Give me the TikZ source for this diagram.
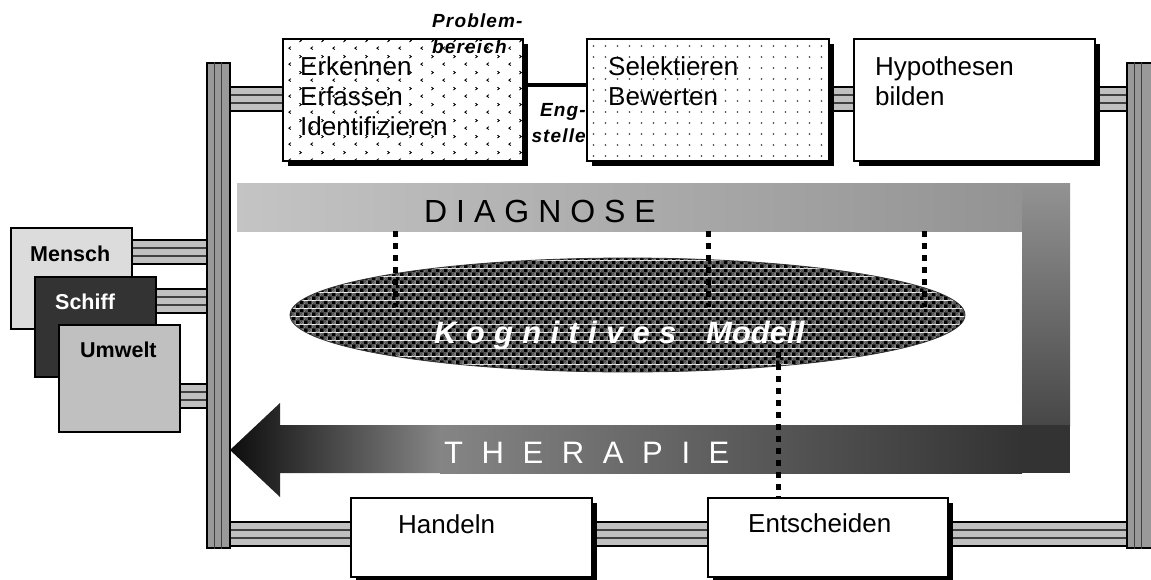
\documentclass[tikz,border=0pt]{standalone}
\usepackage{fontspec}
\setmainfont{Liberation Sans}
\newfontfamily\diagfont[LetterSpace=28]{Liberation Sans}
\newfontfamily\therfont[LetterSpace=60]{Liberation Sans}
\newfontfamily\kogfont[LetterSpace=30]{Liberation Sans}
\newfontfamily\notefont[LetterSpace=6]{Liberation Sans}
\usetikzlibrary{shapes.geometric,patterns.meta,shadows}

\definecolor{busgray}{HTML}{999999}
\definecolor{bargray}{HTML}{C0C0C0}
\definecolor{bandA}{HTML}{C4C4C4}
\definecolor{bandB}{HTML}{939393}
\definecolor{bandC}{HTML}{333333}
\definecolor{bandD}{HTML}{858585}
\definecolor{menschfill}{HTML}{DCDCDC}
\definecolor{schifffill}{HTML}{333333}
\definecolor{umweltfill}{HTML}{C0C0C0}
\definecolor{weavegray}{HTML}{888888}

% small chevron texture
\tikzdeclarepattern{
  name=chevrons, type=uncolored,
  bounding box={(0pt,0pt) and (22pt,16pt)},
  tile size={(22pt,16pt)},
  code={
    \draw[line width=0.9pt] (5pt,1.5pt) -- (3pt,3pt) -- (5pt,4.5pt);
    \draw[line width=0.9pt] (14pt,9.5pt) -- (16pt,11pt) -- (14pt,12.5pt);
  }
}
% sparse dot texture
\tikzdeclarepattern{
  name=sparsedots, type=uncolored,
  bounding box={(0pt,0pt) and (12pt,11pt)},
  tile size={(12pt,11pt)},
  code={\fill (5.3pt,4.8pt) rectangle (6.7pt,6.2pt);}
}
% woven checker texture of the model ellipse
\tikzdeclarepattern{
  name=modelweave, type=colored,
  bounding box={(0pt,0pt) and (8pt,8pt)},
  tile size={(8pt,8pt)},
  code={
    \fill[weavegray] (0pt,0pt) rectangle (8pt,8pt);
    \fill[black] (0pt,0pt) rectangle (4pt,4pt);
    \fill[black] (4pt,4pt) rectangle (8pt,8pt);
    \draw[black!70, line width=0.7pt] (6pt,2pt) circle (1.3pt);
    \draw[black!70, line width=0.7pt] (2pt,6pt) circle (1.3pt);
  }
}

\newcommand\conduit[3]{%
  \pgfmathsetmacro\cya{#3}%
  \pgfmathsetmacro\cyb{#3+8}%
  \pgfmathsetmacro\cyc{#3+16}%
  \pgfmathsetmacro\cyd{#3+24}%
  \fill[bargray] (#1 |- 0,\cya) rectangle (#2 |- 0,\cyd);
  \draw[barline] (#1 |- 0,\cyb) -- (#2 |- 0,\cyb) (#1 |- 0,\cyc) -- (#2 |- 0,\cyc);
  \draw[baredge] (#1 |- 0,\cya) -- (#2 |- 0,\cya) (#1 |- 0,\cyd) -- (#2 |- 0,\cyd);
}

\tikzset{
  barline/.style={draw=black!75, line width=1.2pt},
  baredge/.style={draw=black, line width=1.4pt},
  vbus/.style={draw=black, line width=1.3pt, fill=busgray, inner sep=0, minimum width=23},
  busline/.style={draw=black!75, line width=1.1pt},
  stage/.style={draw=black, line width=1.2pt, fill=white, inner sep=0,
    drop shadow={shadow xshift=4.5pt, shadow yshift=-4.5pt, fill=black, opacity=1}},
  factor/.style={draw=black, line width=1.3pt, inner sep=0, minimum width=121},
  boxtext/.style={anchor=north west, inner sep=0, align=left, font=\fontsize{26}{30}\selectfont},
  factortext/.style={anchor=base west, inner sep=0, font=\fontsize{21.5}{21.5}\selectfont\bfseries},
  notetext/.style={inner sep=0, font=\fontsize{19}{26}\selectfont\notefont\bfseries\itshape},
  probe/.style={draw=black, line width=5pt, dash pattern=on 6pt off 6pt},
}

\begin{document}
\begin{tikzpicture}[x=1pt, y=-1pt]
\useasboundingbox (0,0) rectangle (1151,579);
\fill[white] (0,0) rectangle (1151,579);

% buses
\node[vbus, minimum height=485] (lbus) at (218.5,305.5) {};
\node[vbus, minimum width=25, minimum height=485] (rbus) at (1139.5,305.5) {};

% process stages
\node[stage, minimum width=240, minimum height=122] (er) at (403,100) {};
\node[stage, minimum width=242, minimum height=122] (sel) at (708,100) {};
\node[stage, minimum width=241, minimum height=122] (hyp) at (974.5,100) {};
\node[stage, minimum width=241, minimum height=79] (han) at (471.5,537.5) {};
\node[stage, minimum width=240, minimum height=79] (ent) at (828,537.5) {};

% influencing factors
\node[factor, fill=menschfill, minimum height=101] (mensch) at (71.5,278.5) {};
\node[factor, fill=schifffill, minimum height=100] (schiff) at (95.5,327) {};
\node[factor, fill=umweltfill, minimum height=107] (umwelt) at (119.5,378.5) {};

% conduits between buses, stages and factors
\conduit{lbus.east}{er.west}{87}
\conduit{sel.east}{hyp.west}{87}
\conduit{hyp.east}{rbus.west}{87}
\conduit{lbus.east}{han.west}{522}
\conduit{han.east}{ent.west}{522}
\conduit{ent.east}{rbus.west}{522}
\conduit{mensch.east}{lbus.west}{240}
\conduit{schiff.east}{lbus.west}{289}
\conduit{umwelt.east}{lbus.west}{384}

% redraw buses on top of the conduit ends
\node[vbus, minimum height=485] at (lbus) {};
\node[vbus, minimum width=25, minimum height=485] at (rbus) {};
\foreach \dx in {7.7,15.3} {
  \draw[busline] ([xshift=\dx pt]lbus.north west) -- ([xshift=\dx pt]lbus.south west);
  \draw[busline] ([xshift=\dx pt]rbus.north west) -- ([xshift=\dx pt]rbus.south west);
}

% stage boxes with textures
\node[stage, minimum width=240, minimum height=122, postaction={pattern=chevrons, pattern color=black}] at (er) {};
\node[stage, minimum width=242, minimum height=122, postaction={pattern=sparsedots, pattern color=black}] at (sel) {};
\node[stage, minimum width=241, minimum height=122] at (hyp) {};
\node[stage, minimum width=241, minimum height=79] at (han) {};
\node[stage, minimum width=240, minimum height=79] at (ent) {};

% factor boxes stacked
\node[factor, fill=menschfill, minimum height=101] at (mensch) {};
\node[factor, fill=schifffill, minimum height=100] at (schiff) {};
\node[factor, fill=umweltfill, minimum height=107] at (umwelt) {};

% bottleneck link
\draw[line width=3.5pt] (er.east |- 0,85) -- (sel.west |- 0,85);

% diagnosis / therapy loop
\shade[left color=bandA, right color=bandB] (237,183) rectangle (1022,231);
\shade[top color=bandB, bottom color=bandC!90!white] (1022,183) rectangle (1070,425);
\fill[bandC] (1022,425) rectangle (1070,473);
\shade[left color=bandD, right color=bandC] (440,425) rectangle (1022,473);
\shade[left color=black!95, right color=bandD]
  (230,450) -- (280,403) -- (280,425) -- (440,425) -- (440,473) -- (280,473) -- (280,497) -- cycle;

% cognitive model
\node[ellipse, draw=black!80, line width=0.8pt, pattern=modelweave,
      minimum width=675, minimum height=114, inner sep=0] (model) at (627.5,315) {};

% probes between loop, model and decision
\coordinate (p1) at (395,231);
\coordinate (p2) at (708,231);
\coordinate (p3) at (924,231);
\coordinate (q1) at (395,307);
\coordinate (q2) at (708,307);
\coordinate (q3) at (924,307);
\coordinate (q4) at (778,352);
\draw[probe] (p1) -- (q1);
\draw[probe] (p2) -- (q2);
\draw[probe] (p3) -- (q3);
\draw[probe] (q4) -- (q4 |- ent.north);

% texts
\node[boxtext] (ertext) at (300,56) {Erkennen\\Erfassen\\Identifizieren};
\node[boxtext] (seltext) at (608,56) {Selektieren\\Bewerten};
\node[boxtext] (hyptext) at (875,56) {Hypothesen\\bilden};
\node[boxtext] (hantext) at (398,514) {Handeln};
\node[boxtext] (enttext) at (748,513) {Entscheiden};

\node[notetext, anchor=north west, align=left] (prob) at (432,14) {Problem-\\bereich};
\node[notetext, anchor=north east, align=right] (eng) at (586,103) {Eng-\\stelle};

\node[factortext] (menschtext) at (30,261) {Mensch};
\node[factortext, text=white] (schifftext) at (55,309) {Schiff};
\node[factortext] (umwelttext) at (80,357) {Umwelt};

\node[anchor=base west, inner sep=0, font=\fontsize{32}{32}\selectfont\diagfont] (diag) at (424,222) {DIAGNOSE};
\node[anchor=base west, inner sep=0, text=white, font=\fontsize{31}{31}\selectfont\therfont] (ther) at (444,463) {THERAPIE};

\node[anchor=base west, inner sep=0, text=white, font=\fontsize{31}{31}\selectfont\kogfont\bfseries\itshape] (kog) at (434,343) {Kognitives};
\node[anchor=base west, inner sep=0, text=white, font=\fontsize{31}{31}\selectfont\bfseries\itshape] (modell) at (706,343) {Modell};
\end{tikzpicture}
\end{document}
